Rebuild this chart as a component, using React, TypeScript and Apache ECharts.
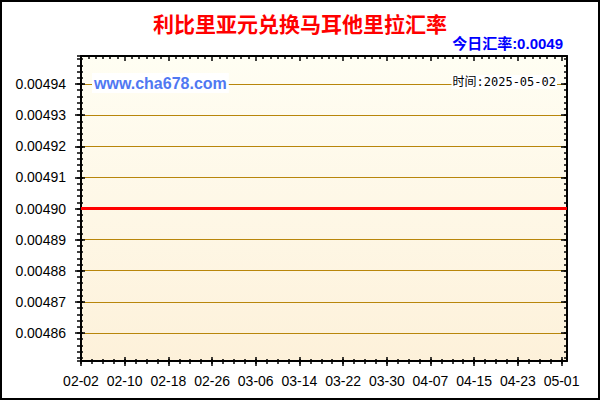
import React, { useEffect, useRef } from "react";
import * as echarts from "echarts";

const title = "利比里亚元兑换马耳他里拉汇率";
const todayText = "今日汇率:0.0049";
const timeText = "时间:2025-05-02";
const watermark = "www.cha678.com";

const dates = [
  "02-02","02-03","02-04","02-05","02-06","02-07","02-08","02-09","02-10","02-11",
  "02-12","02-13","02-14","02-15","02-16","02-17","02-18","02-19","02-20","02-21",
  "02-22","02-23","02-24","02-25","02-26","02-27","02-28","03-01","03-02","03-03",
  "03-04","03-05","03-06","03-07","03-08","03-09","03-10","03-11","03-12","03-13",
  "03-14","03-15","03-16","03-17","03-18","03-19","03-20","03-21","03-22","03-23",
  "03-24","03-25","03-26","03-27","03-28","03-29","03-30","03-31","04-01","04-02",
  "04-03","04-04","04-05","04-06","04-07","04-08","04-09","04-10","04-11","04-12",
  "04-13","04-14","04-15","04-16","04-17","04-18","04-19","04-20","04-21","04-22",
  "04-23","04-24","04-25","04-26","04-27","04-28","04-29","04-30","05-01","05-02",
];

const rates = [
  0.0049,0.0049,0.0049,0.0049,0.0049,0.0049,0.0049,0.0049,0.0049,0.0049,
  0.0049,0.0049,0.0049,0.0049,0.0049,0.0049,0.0049,0.0049,0.0049,0.0049,
  0.0049,0.0049,0.0049,0.0049,0.0049,0.0049,0.0049,0.0049,0.0049,0.0049,
  0.0049,0.0049,0.0049,0.0049,0.0049,0.0049,0.0049,0.0049,0.0049,0.0049,
  0.0049,0.0049,0.0049,0.0049,0.0049,0.0049,0.0049,0.0049,0.0049,0.0049,
  0.0049,0.0049,0.0049,0.0049,0.0049,0.0049,0.0049,0.0049,0.0049,0.0049,
  0.0049,0.0049,0.0049,0.0049,0.0049,0.0049,0.0049,0.0049,0.0049,0.0049,
  0.0049,0.0049,0.0049,0.0049,0.0049,0.0049,0.0049,0.0049,0.0049,0.0049,
  0.0049,0.0049,0.0049,0.0049,0.0049,0.0049,0.0049,0.0049,0.0049,0.0049,
];

const yMin = 0.004851;
const yMax = 0.004949;

const FONT = "'Liberation Sans', Arial, 'Noto Sans CJK SC', sans-serif";

function App() {
  const ref = useRef<HTMLDivElement>(null);

  useEffect(() => {
    document.body.style.margin = "0";
    if (!ref.current) return;
    const chart = echarts.init(ref.current, undefined, { renderer: "svg" });

    const black = { show: true, lineStyle: { color: "#000", width: 2 }, onZero: false };
    const noLine = { show: false, onZero: false };
    const tickStyle = { color: "#000", width: 1.5 };

    const catX = (extra: any) => ({
      type: "category",
      data: dates,
      boundaryGap: false,
      position: "bottom",
      axisLine: noLine,
      axisLabel: { show: false },
      splitLine: { show: false },
      ...extra,
    });

    const valY = (extra: any) => ({
      type: "value",
      min: yMin,
      max: yMax,
      splitNumber: 10,
      position: "left",
      axisLine: noLine,
      axisLabel: { show: false },
      splitLine: { show: false },
      ...extra,
    });

    const option: any = {
      animation: false,
      grid: {
        left: 81,
        right: 33,
        top: 56,
        bottom: 39,
        show: true,
        borderWidth: 0,
        backgroundColor: new echarts.graphic.LinearGradient(0, 0, 0, 1, [
          { offset: 0, color: "#FFFEF3" },
          { offset: 1, color: "#FDF1DA" },
        ]),
      },
      xAxis: [
        catX({
          axisLine: black,
          axisTick: { show: true, interval: 7, length: 5, inside: false, lineStyle: tickStyle },
          axisLabel: {
            show: true,
            interval: 7,
            margin: 13,
            color: "#000",
            fontSize: 14,
            fontFamily: FONT,
          },
        }),
        catX({ axisTick: { show: true, interval: 7, length: 4, inside: true, lineStyle: tickStyle } }),
        catX({ axisTick: { show: true, interval: 1, length: 3, inside: false, lineStyle: tickStyle } }),
        catX({ axisTick: { show: true, interval: 1, length: 2, inside: true, lineStyle: tickStyle } }),
        {
          type: "value",
          position: "top",
          min: 0,
          max: 89,
          interval: 8,
          axisLine: black,
          axisTick: { show: true, inside: true, length: 5, lineStyle: tickStyle },
          minorTick: { show: true, splitNumber: 6, length: 3, lineStyle: tickStyle },
          axisLabel: { show: false },
          splitLine: { show: false },
        },
      ],
      yAxis: [
        valY({
          axisLine: black,
          axisTick: { show: true, inside: false, length: 6, lineStyle: tickStyle },
          axisLabel: {
            show: true,
            margin: 15,
            color: "#000",
            fontSize: 14,
            fontFamily: FONT,
            showMinLabel: false,
            showMaxLabel: false,
            formatter: (v: number) => v.toFixed(5),
          },
          splitLine: { show: true, lineStyle: { color: "#B8860B", width: 1 } },
        }),
        valY({ axisTick: { show: true, inside: true, length: 4, lineStyle: tickStyle } }),
        valY({ splitNumber: 50, axisTick: { show: true, inside: false, length: 4, lineStyle: tickStyle } }),
        valY({ splitNumber: 50, axisTick: { show: true, inside: true, length: 2, lineStyle: tickStyle } }),
        valY({
          position: "right",
          axisLine: black,
          axisTick: { show: true, inside: true, length: 6, lineStyle: tickStyle },
        }),
        valY({
          position: "right",
          splitNumber: 50,
          axisTick: { show: true, inside: true, length: 3, lineStyle: tickStyle },
        }),
      ],
      series: [
        {
          type: "line",
          xAxisIndex: 0,
          yAxisIndex: 0,
          data: rates,
          symbol: "none",
          lineStyle: { color: "#FF0000", width: 3 },
          z: 5,
        },
      ],
      graphic: [
        {
          type: "rect",
          z: 200,
          shape: { x: 1, y: 1, width: 598, height: 398 },
          style: { fill: "none", stroke: "#000", lineWidth: 2 },
          silent: true,
        },
        {
          type: "text",
          z: 200,
          x: 300,
          y: 23,
          style: {
            text: title,
            fill: "#FF0000",
            font: "bold 21px 'Noto Sans CJK SC', sans-serif",
            align: "center",
            verticalAlign: "middle",
          },
        },
        {
          type: "text",
          z: 200,
          x: 563,
          y: 43,
          style: {
            text: todayText,
            fill: "#0000FF",
            font: "bold 15px 'Liberation Sans', Arial, 'Noto Sans CJK SC', sans-serif",
            align: "right",
            verticalAlign: "middle",
          },
        },
        {
          type: "text",
          z: 200,
          x: 92,
          y: 83,
          style: {
            text: watermark,
            fill: "#5078F2",
            font: "bold 16px 'Liberation Sans', Arial, sans-serif",
            align: "left",
            verticalAlign: "middle",
            backgroundColor: "#FFFFFF",
            padding: [2, 2, 2, 2],
          },
        },
        {
          type: "text",
          z: 200,
          x: 557,
          y: 82,
          style: {
            text: timeText,
            fill: "#000",
            font: "12px 'DejaVu Sans Mono', 'Noto Sans CJK SC', monospace",
            align: "right",
            verticalAlign: "middle",
            backgroundColor: "#FFFFFF",
            padding: [1, 1, 1, 1],
          },
        },
      ],
    };

    chart.setOption(option);
    return () => chart.dispose();
  }, []);

  return <div ref={ref} style={{ width: 600, height: 400, background: "#fff" }} />;
}

export default App;
